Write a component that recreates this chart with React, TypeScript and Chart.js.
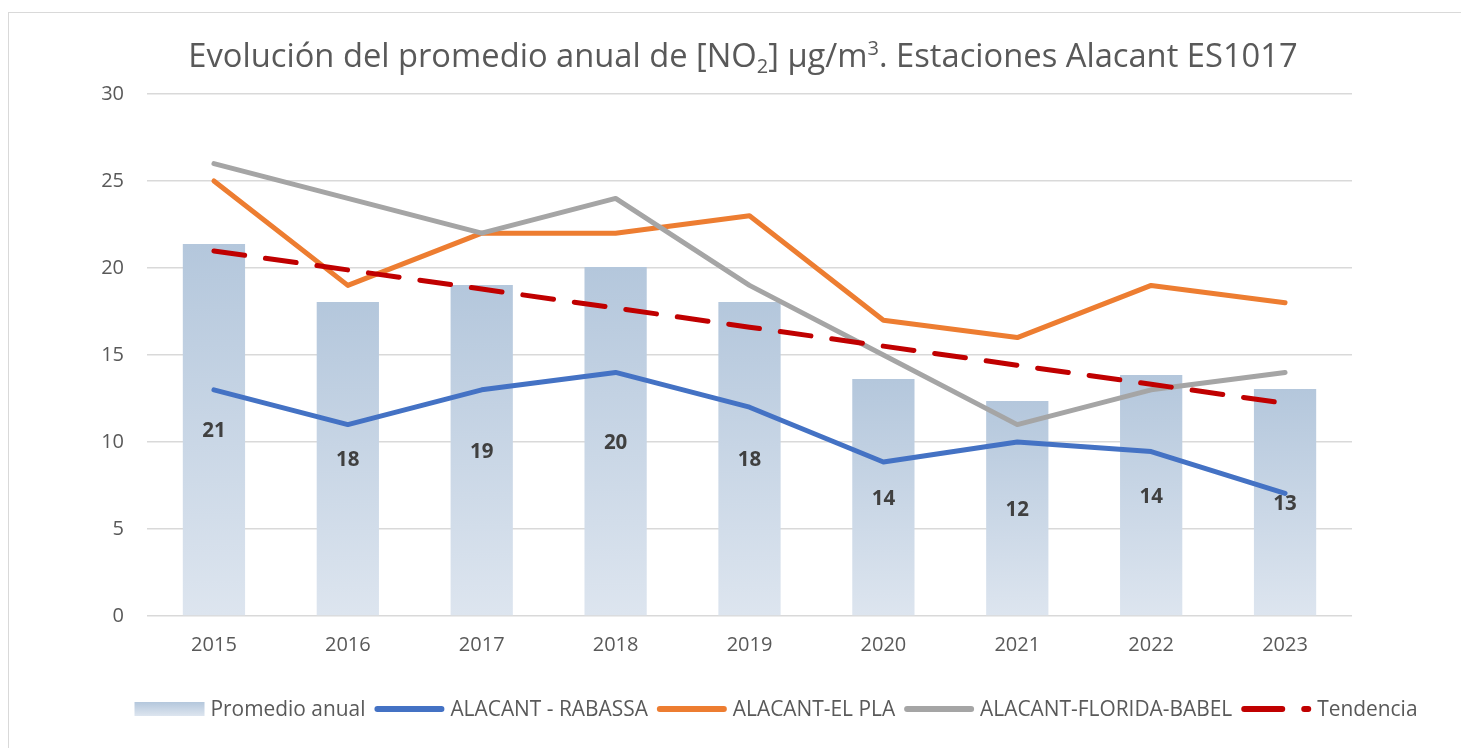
import React, { useEffect, useRef } from "react";
import { Chart, registerables } from "chart.js";

Chart.register(...registerables);

// ---- Data ----
const years = ["2015", "2016", "2017", "2018", "2019", "2020", "2021", "2022", "2023"];
const promedioAnual = [21.38, 18.05, 19.02, 20.06, 18.05, 13.62, 12.36, 13.85, 13.05];
const rabassa = [13, 11, 13, 14, 12, 8.85, 10, 9.45, 7.05];
const elPla = [25, 19, 22, 22, 23, 17, 16, 19, 18];
const floridaBabel = [26, 24, 22, 24, 19, 15, 11, 13, 14];
const tendencia = [20.98, 19.89, 18.79, 17.7, 16.6, 15.51, 14.41, 13.32, 12.22];
const seriesLabels = ["Promedio anual", "ALACANT - RABASSA", "ALACANT-EL PLA", "ALACANT-FLORIDA-BABEL", "Tendencia"];
const yMin = 0;
const yMax = 30;
const yStep = 5;
const titleParts: [string, string][] = [
  ["Evolución del promedio anual de [NO", "n"],
  ["2", "sub"],
  ["] µg/m", "n"],
  ["3", "sup"],
  [". Estaciones Alacant ES1017", "n"],
];

// ---- Styles ----
const FONT = '"Open Sans", sans-serif';
const TEXT = "#595959";
const GRID = "#d9d9d9";
const BAR_TOP = "#b4c7dc";
const BAR_BOTTOM = "#dde5ef";
const BLUE = "#4472c4";
const ORANGE = "#ed7d31";
const GRAY = "#a5a5a5";
const RED = "#c00000";
const LINE_W = 5;
const DASH = [31, 21];

const TITLE_SIZE = 32.7;
const LEGEND_SIZE = 20.9;

const barGradient = (c: any) => {
  const chart = c.chart;
  if (!chart.chartArea || c.type !== "data") return BAR_TOP;
  const y = chart.scales.y;
  const top = y.getPixelForValue(c.raw as number);
  const bottom = y.getPixelForValue(0);
  const g = chart.ctx.createLinearGradient(0, top, 0, bottom);
  g.addColorStop(0, BAR_TOP);
  g.addColorStop(1, BAR_BOTTOM);
  return g;
};

const barLabelsPlugin = {
  id: "barLabels",
  afterDatasetsDraw(chart: any) {
    const meta = chart.getDatasetMeta(0);
    const ctx = chart.ctx;
    ctx.save();
    ctx.font = `bold 20.5px ${FONT}`;
    ctx.fillStyle = "#404040";
    ctx.textAlign = "center";
    ctx.textBaseline = "middle";
    meta.data.forEach((el: any, i: number) => {
      const p = el.getProps(["x", "y", "base"], true);
      const v = chart.data.datasets[0].data[i] as number;
      ctx.fillText(String(Math.round(v)), p.x, (p.y + p.base) / 2 + 2);
    });
    ctx.restore();
  },
};

const titlePlugin = {
  id: "customTitle",
  afterDraw(chart: any) {
    const ctx = chart.ctx;
    ctx.save();
    ctx.fillStyle = TEXT;
    ctx.textBaseline = "alphabetic";
    ctx.textAlign = "left";
    const fontFor = (k: string) => (k === "n" ? `${TITLE_SIZE}px ${FONT}` : `${Math.round(TITLE_SIZE * 0.62)}px ${FONT}`);
    let total = 0;
    const widths = titleParts.map(([t, k]) => {
      ctx.font = fontFor(k);
      const w = ctx.measureText(t).width;
      total += w;
      return w;
    });
    const cx = 734;
    const baseline = 54;
    let x = cx - total / 2;
    titleParts.forEach(([t, k], i) => {
      ctx.font = fontFor(k);
      const dy = k === "sub" ? 6 : k === "sup" ? -12 : 0;
      ctx.fillText(t, x, baseline + dy);
      x += widths[i];
    });
    ctx.restore();
  },
};

const legendPlugin = {
  id: "customLegend",
  afterDraw(chart: any) {
    const ctx = chart.ctx;
    const markerW = 70;
    const textGap = 6;
    const itemGap = 9;
    const cy = 696;
    ctx.save();
    ctx.font = `${LEGEND_SIZE}px ${FONT}`;
    const ds = chart.data.datasets;
    const widths = ds.map((d: any) => ctx.measureText(d.label).width);
    let total = 0;
    widths.forEach((w: number, i: number) => {
      total += markerW + textGap + w + (i < widths.length - 1 ? itemGap : 0);
    });
    let x = 767 - total / 2;
    ds.forEach((d: any, i: number) => {
      if (i === 0) {
        const g = ctx.createLinearGradient(0, cy - 7, 0, cy + 7);
        g.addColorStop(0, BAR_TOP);
        g.addColorStop(1, BAR_BOTTOM);
        ctx.fillStyle = g;
        ctx.fillRect(x, cy - 7, markerW, 14);
      } else {
        ctx.strokeStyle = d.borderColor;
        ctx.lineWidth = 6;
        ctx.lineCap = "round";
        ctx.beginPath();
        if (d.borderDash && d.borderDash.length) {
          ctx.moveTo(x + 3, cy);
          ctx.lineTo(x + 41, cy);
          ctx.moveTo(x + 63, cy);
          ctx.lineTo(x + 67, cy);
        } else {
          ctx.moveTo(x + 3, cy);
          ctx.lineTo(x + markerW - 3, cy);
        }
        ctx.stroke();
      }
      ctx.fillStyle = TEXT;
      ctx.textAlign = "left";
      ctx.textBaseline = "middle";
      ctx.fillText(d.label, x + markerW + textGap, cy + 1);
      x += markerW + textGap + widths[i] + itemGap;
    });
    ctx.restore();
  },
};

export default function App() {
  const ref = useRef<HTMLCanvasElement | null>(null);

  useEffect(() => {
    if (!ref.current) return;
    const lineCommon = {
      type: "line" as const,
      borderWidth: LINE_W,
      pointRadius: 0,
      pointHoverRadius: 0,
      tension: 0,
      fill: false,
      borderJoinStyle: "round" as const,
      borderCapStyle: "round" as const,
    };
    const chart = new Chart(ref.current, {
      type: "bar",
      data: {
        labels: years,
        datasets: [
          {
            type: "bar",
            label: seriesLabels[0],
            data: promedioAnual,
            backgroundColor: barGradient as any,
            borderWidth: 0,
            categoryPercentage: 1,
            barPercentage: 0.465,
            order: 5,
          },
          { ...lineCommon, label: seriesLabels[1], data: rabassa, borderColor: BLUE, backgroundColor: BLUE, order: 4 },
          { ...lineCommon, label: seriesLabels[2], data: elPla, borderColor: ORANGE, backgroundColor: ORANGE, order: 3 },
          { ...lineCommon, label: seriesLabels[3], data: floridaBabel, borderColor: GRAY, backgroundColor: GRAY, order: 2 },
          { ...lineCommon, label: seriesLabels[4], data: tendencia, borderColor: RED, backgroundColor: RED, borderDash: DASH, order: 1 },
        ] as any,
      },
      options: {
        animation: false,
        responsive: false,
        events: [],
        layout: { padding: { left: 0, right: 117, top: 81, bottom: 82 } },
        plugins: {
          legend: { display: false },
          title: { display: false },
          tooltip: { enabled: false },
        },
        scales: {
          x: {
            type: "category",
            offset: true,
            grid: { display: false, drawTicks: false },
            border: { display: false },
            ticks: {
              color: TEXT,
              font: { family: FONT, size: 20 },
              padding: 17,
              maxRotation: 0,
              autoSkip: false,
            },
            afterFit: (s: any) => {
              s.height = 50;
            },
          },
          y: {
            min: yMin,
            max: yMax,
            grid: { color: GRID, lineWidth: 1.5, drawTicks: false },
            border: { display: false },
            ticks: {
              stepSize: yStep,
              color: TEXT,
              font: { family: FONT, size: 20 },
              padding: 23,
            },
            afterFit: (s: any) => {
              s.width = 138;
            },
          },
        },
      },
      plugins: [barLabelsPlugin, titlePlugin, legendPlugin],
    });
    return () => chart.destroy();
  }, []);

  return (
    <div style={{ paddingTop: 4 }}>
      <div
        style={{
          width: 1461,
          boxSizing: "border-box",
          borderTop: `1px solid ${GRID}`,
          borderLeft: `1px solid ${GRID}`,
        }}
      >
        <canvas ref={ref} width={1460} height={735} style={{ display: "block" }} />
      </div>
    </div>
  );
}
